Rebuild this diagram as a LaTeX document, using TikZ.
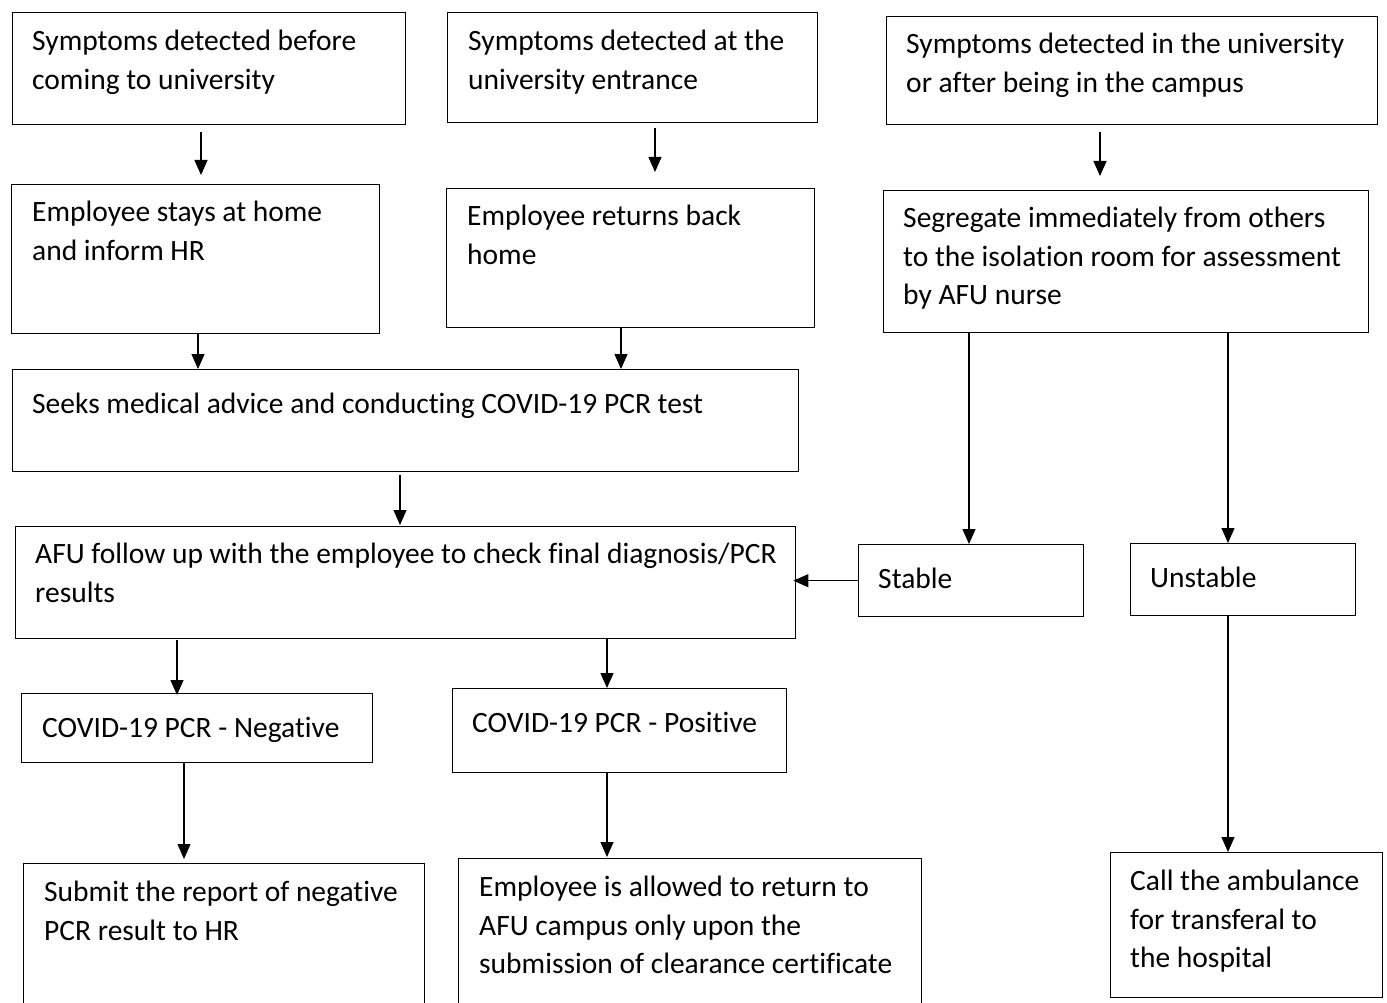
\documentclass[tikz,border=0pt]{standalone}
\usepackage{fontspec}
\setmainfont{Carlito}[Ligatures=NoCommon]
\usetikzlibrary{arrows.meta}

\begin{document}
\begin{tikzpicture}[x=1pt,y=-1pt,
  box/.style={draw, line width=1.4pt, anchor=north west, inner sep=0pt},
  txt/.style={anchor=north west, align=left, inner sep=0pt,
    font=\fontsize{29.5}{38.5}\selectfont, execute at begin node=\strut},
  arr/.style={-{Triangle[length=15pt,width=13pt]}, line width=1.2pt}]

\clip (0,0) rectangle (1387,1003);

%==================== top row ====================
\node[box, minimum width=393, minimum height=112] (sBefore) at (12,12) {};
\node[txt] at ([shift={(20,18)}]sBefore.north west) {Symptoms detected before\\coming to university};

\node[box, minimum width=370, minimum height=110] (sEntrance) at (447,12) {};
\node[txt] at ([shift={(21,18)}]sEntrance.north west) {Symptoms detected at the\\university entrance};

\node[box, minimum width=491, minimum height=108] (sCampus) at (886,16) {};
\node[txt] at ([shift={(20,17)}]sCampus.north west) {Symptoms detected in the university\\or after being in the campus};

%==================== second row ====================
\node[box, minimum width=368, minimum height=149] (stayHome) at (11,184) {};
\node[txt] at ([shift={(21,17)}]stayHome.north west) {Employee stays at home\\and inform HR};

\node[box, minimum width=368, minimum height=139] (goHome) at (446,188) {};
\node[txt] at ([shift={(21,17)}]goHome.north west) {Employee returns back\\home};

\node[box, minimum width=485, minimum height=142] (segregate) at (883,190) {};
\node[txt] at ([shift={(20,17)}]segregate.north west) {Segregate immediately from others\\to the isolation room for assessment\\by AFU nurse};

%==================== PCR test and follow up ====================
\node[box, minimum width=786, minimum height=102] (seekAdvice) at (12,369) {};
\node[txt] at ([shift={(20,17)}]seekAdvice.north west) {Seeks medical advice and conducting COVID-19 PCR test};

\node[box, minimum width=780, minimum height=112] (followUp) at (15,526) {};
\node[txt] at ([shift={(20,17)}]followUp.north west) {AFU follow up with the employee to check final diagnosis/PCR\\results};

\node[box, minimum width=225, minimum height=72] (stable) at (858,544) {};
\node[txt] at ([shift={(20,17)}]stable.north west) {Stable};

\node[box, minimum width=225, minimum height=72] (unstable) at (1130,543) {};
\node[txt] at ([shift={(20,17)}]unstable.north west) {Unstable};

%==================== results ====================
\node[box, minimum width=351, minimum height=69] (negative) at (21,693) {};
\node[txt] at ([shift={(21,17)}]negative.north west) {COVID-19 PCR - Negative};

\node[box, minimum width=334, minimum height=84] (positive) at (452,688) {};
\node[txt] at ([shift={(20,17)}]positive.north west) {COVID-19 PCR - Positive};

%==================== bottom row ====================
\node[box, minimum width=401, minimum height=160] (submitReport) at (23,863) {};
\node[txt] at ([shift={(21,18)}]submitReport.north west) {Submit the report of negative\\PCR result to HR};

\node[box, minimum width=463, minimum height=165] (allowReturn) at (458,858) {};
\node[txt] at ([shift={(21,18)}]allowReturn.north west) {Employee is allowed to return to\\AFU campus only upon the\\submission of clearance certificate};

\node[box, minimum width=272, minimum height=145] (ambulance) at (1110,852) {};
\node[txt] at ([shift={(20,18)}]ambulance.north west) {Call the ambulance\\for transferal to\\the hospital};

%==================== arrows ====================
\foreach \a/\b/\x/\s/\e in {
sBefore/stayHome/201/7/9, sEntrance/goHome/655/5/16, sCampus/segregate/1100/7/14,
stayHome/seekAdvice/198/0/0, goHome/seekAdvice/621/0/0, seekAdvice/followUp/400/3/1,
segregate/stable/969/0/0, segregate/unstable/1228/0/0,
followUp/negative/177/1/-2, followUp/positive/607/0/0,
negative/submitReport/184/0/4, positive/allowReturn/607/0/1, unstable/ambulance/1228/0/0
}{
    \draw[arr, shorten <=\s pt, shorten >=\e pt] (\a.south -| \x,0) -- (\b.north -| \x,0);
}

\draw[arr, shorten >=-3pt] (stable.west) -- (stable.west -| followUp.east);

\end{tikzpicture}
\end{document}
